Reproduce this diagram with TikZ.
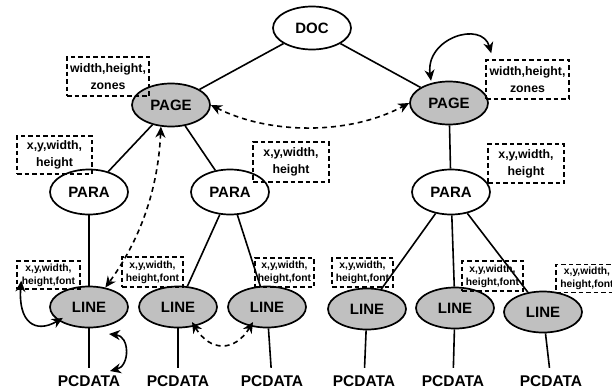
\documentclass[tikz,border=0pt]{standalone}
\usepackage{fontspec}
\setmainfont{Liberation Sans}
\usetikzlibrary{shapes.geometric,arrows.meta}
\definecolor{nodegray}{RGB}{192,192,192}
\begin{document}
\begin{tikzpicture}[x=1pt,y=-1pt,
  elem/.style={ellipse,draw,line width=1.7pt,minimum width=78pt,minimum height=43pt,inner sep=0pt,font=\bfseries\fontsize{15}{18}\selectfont},
  grayelem/.style={elem,fill=nodegray},
  lineelem/.style={elem,fill=nodegray,minimum height=41pt},
  attr/.style={draw,line width=1.5pt,dash pattern=on 4.5pt off 3pt,inner sep=0pt,align=center,font=\bfseries\fontsize{12.3}{17}\selectfont},
  sattr/.style={attr,font=\bfseries\fontsize{10.3}{13}\selectfont},
  pcd/.style={inner sep=0pt,minimum height=26pt,font=\bfseries\fontsize{15.5}{18}\selectfont},
  edge/.style={line width=1.6pt},
  tip/.style={},
  arr/.style={line width=1.6pt,{Stealth[length=11pt,width=10pt,inset=3.5pt]}-{Stealth[length=11pt,width=10pt,inset=3.5pt]}},
  darr/.style={arr,dash pattern=on 5pt off 4pt}
]
\useasboundingbox (0,0) rectangle (612,391);

% element nodes
\node[elem] (doc) at (312,28) {DOC};
\node[grayelem] (pageL) at (171,105) {PAGE};
\node[grayelem] (pageR) at (449,103) {PAGE};
\node[elem,minimum height=45pt] (paraL) at (89,192) {PARA};
\node[elem,minimum height=45pt] (paraM) at (230,192) {PARA};
\node[elem,minimum height=45pt] (paraR) at (451,192) {PARA};
\node[lineelem] (line1) at (89,307) {LINE};
\node[lineelem] (line2) at (178,307) {LINE};
\node[lineelem] (line3) at (267,307) {LINE};
\node[lineelem] (line4) at (367,309) {LINE};
\node[lineelem] (line5) at (455,308) {LINE};
\node[lineelem] (line6) at (543,312) {LINE};
\node[pcd] (pc1) at (89,381) {PCDATA};
\node[pcd] (pc2) at (178,381) {PCDATA};
\node[pcd] (pc3) at (272,381) {PCDATA};
\node[pcd] (pc4) at (364,381) {PCDATA};
\node[pcd] (pc5) at (453,381) {PCDATA};
\node[pcd] (pc6) at (551,381) {PCDATA};

% attribute boxes
\node[attr,minimum width=82pt,minimum height=39pt] (bPL) at (108,76.5) {width,height,\\zones};
\node[attr,minimum width=75pt,minimum height=38pt] (bAL) at (54.5,155) {x,y,width,\\height};
\node[attr,minimum width=76pt,minimum height=40pt] (bAM) at (291,162) {x,y,width,\\height};
\node[attr,minimum width=83pt,minimum height=39pt] (bPR) at (527.5,79.5) {width,height,\\zones};
\node[attr,minimum width=76pt,minimum height=39pt] (bAR) at (526,163.5) {x,y,width,\\height};
\node[sattr,minimum width=63pt,minimum height=28pt] (b1) at (48.5,275) {x,y,width,\\height,font};
\node[sattr,minimum width=61pt,minimum height=30pt] (b2) at (152.5,272) {x,y,width,\\height,font};
\node[sattr,minimum width=59pt,minimum height=29pt] (b3) at (284.5,272.5) {x,y,width,\\height,font};
\node[sattr,minimum width=61pt,minimum height=29pt] (b4) at (362.5,272.5) {x,y,width,\\height,font};
\node[sattr,minimum width=61pt,minimum height=30pt] (b5) at (492.5,276) {x,y,width,\\height,font};
\node[sattr,minimum width=62pt,minimum height=28pt] (b6) at (587,278.5) {x,y,width,\\height,font};

% tree edges
\draw[edge] (doc) -- (pageL);
\draw[edge] (doc) -- (pageR);
\draw[edge] (pageL) -- (paraL);
\draw[edge] (pageL) -- (paraM);
\draw[edge] (pageR) -- (paraR);
\draw[edge] (paraL) -- (line1);
\draw[edge] (paraM) -- (line2);
\draw[edge] (paraM) -- (line3);
\draw[edge] (paraR) -- (line4);
\draw[edge] (paraR) -- (line5);
\draw[edge] (paraR) -- (line6);
\draw[edge] (line1) -- (pc1);
\draw[edge] (line2) -- (pc2);
\draw[edge] (line3) -- (pc3);
\draw[edge] (line4) -- (pc4);
\draw[edge] (line5) -- (pc5);
\draw[edge] (line6) -- (pc6);

% relation arrows
\draw[darr] (pageL.east) .. controls (270,135) and (350,135) .. (pageR.west);
\draw[darr] (pageL.-115) .. controls (158,190) and (140,240) .. (line1.50);
\draw[arr] ([shift={(-1,-2)}]pageR.130) .. controls (425,38) and (482,20) .. ([shift={(6,-6)}]bPR.north west);
\coordinate (a4) at ([shift={(5,-9)}]b1.south west);
\draw[arr] (a4) .. controls (18,322) and (35,334) .. ([shift={(-2,-6)}]line1.215);
\coordinate (a5s) at (109,334);
\coordinate (a5e) at (110,371);
\draw[arr] (a5s) .. controls (130,336) and (130,366) .. (a5e);
\draw[darr] ([shift={(0,-5)}]line2.-55) .. controls (210,352) and (235,352) .. ([shift={(0,-5)}]line3.-125);
\end{tikzpicture}
\end{document}
